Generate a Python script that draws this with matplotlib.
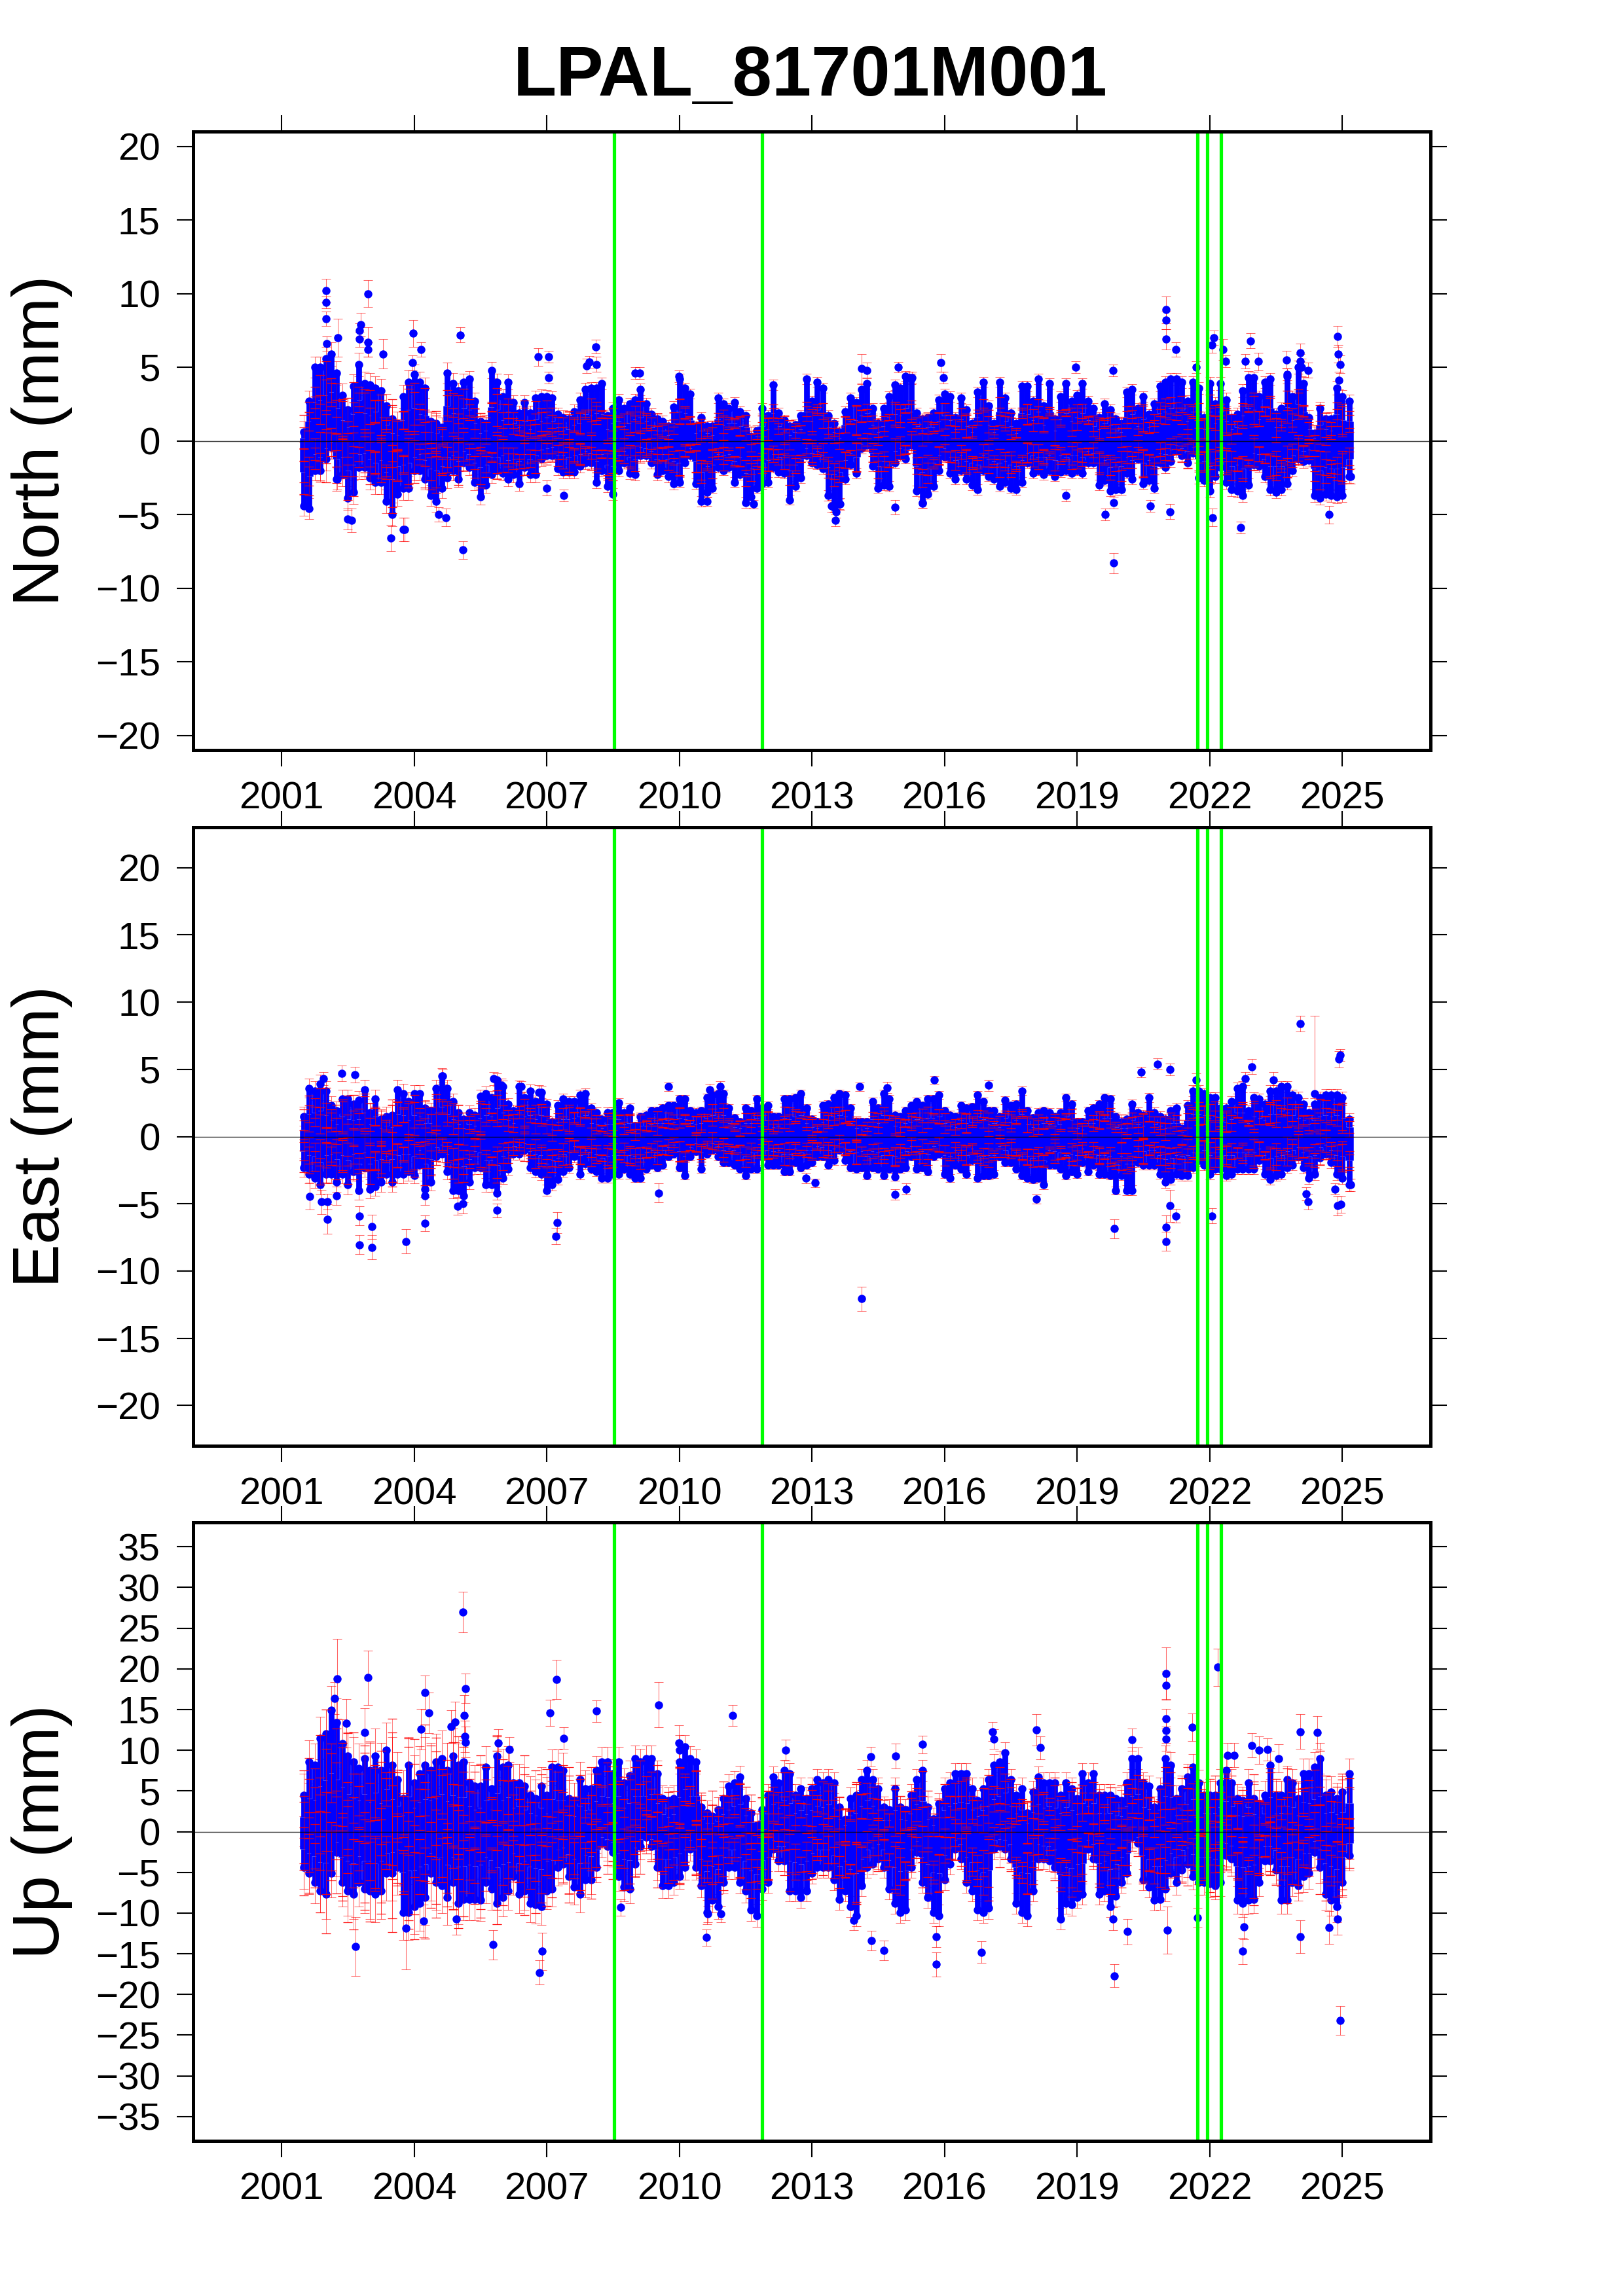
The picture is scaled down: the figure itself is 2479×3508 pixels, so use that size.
import matplotlib
matplotlib.use('Agg')
import matplotlib.pyplot as plt

plt.rcParams['font.family'] = ['Liberation Sans', 'DejaVu Sans']

# epochs of the envelope read-offs (decimal years)
epochs = [2001.5, 2001.625, 2001.75, 2001.875,
    2002.0, 2002.125, 2002.25, 2002.375, 2002.5, 2002.625, 2002.75, 2002.875,
    2003.0, 2003.125, 2003.25, 2003.375, 2003.5, 2003.625, 2003.75, 2003.875,
    2004.0, 2004.125, 2004.25, 2004.375, 2004.5, 2004.625, 2004.75, 2004.875,
    2005.0, 2005.125, 2005.25, 2005.375, 2005.5, 2005.625, 2005.75, 2005.875,
    2006.0, 2006.125, 2006.25, 2006.375, 2006.5, 2006.625, 2006.75, 2006.875,
    2007.0, 2007.125, 2007.25, 2007.375, 2007.5, 2007.625, 2007.75, 2007.875,
    2008.0, 2008.125, 2008.25, 2008.375, 2008.5, 2008.625, 2008.75, 2008.875,
    2009.0, 2009.125, 2009.25, 2009.375, 2009.5, 2009.625, 2009.75, 2009.875,
    2010.0, 2010.125, 2010.25, 2010.375, 2010.5, 2010.625, 2010.75, 2010.875,
    2011.0, 2011.125, 2011.25, 2011.375, 2011.5, 2011.625, 2011.75, 2011.875,
    2012.0, 2012.125, 2012.25, 2012.375, 2012.5, 2012.625, 2012.75, 2012.875,
    2013.0, 2013.125, 2013.25, 2013.375, 2013.5, 2013.625, 2013.75, 2013.875,
    2014.0, 2014.125, 2014.25, 2014.375, 2014.5, 2014.625, 2014.75, 2014.875,
    2015.0, 2015.125, 2015.25, 2015.375, 2015.5, 2015.625, 2015.75, 2015.875,
    2016.0, 2016.125, 2016.25, 2016.375, 2016.5, 2016.625, 2016.75, 2016.875,
    2017.0, 2017.125, 2017.25, 2017.375, 2017.5, 2017.625, 2017.75, 2017.875,
    2018.0, 2018.125, 2018.25, 2018.375, 2018.5, 2018.625, 2018.75, 2018.875,
    2019.0, 2019.125, 2019.25, 2019.375, 2019.5, 2019.625, 2019.75, 2019.875,
    2020.0, 2020.125, 2020.25, 2020.375, 2020.5, 2020.625, 2020.75, 2020.875,
    2021.0, 2021.125, 2021.25, 2021.375, 2021.5, 2021.625, 2021.75, 2021.875,
    2022.0, 2022.125, 2022.25, 2022.375, 2022.5, 2022.625, 2022.75, 2022.875,
    2023.0, 2023.125, 2023.25, 2023.375, 2023.5, 2023.625, 2023.75, 2023.875,
    2024.0, 2024.125, 2024.25, 2024.375, 2024.5, 2024.625, 2024.75, 2024.875,
    2025.0, 2025.16]

years = [2001, 2002, 2003, 2004, 2005, 2006, 2007, 2008, 2009, 2010, 2011, 2012, 2013,
         2014, 2015, 2016, 2017, 2018, 2019, 2020, 2021, 2022, 2023, 2024, 2025]
offsets = [2008.53, 2011.88, 2021.72, 2021.95, 2022.26]

# ---- North
north_hi = [0.6,2.7,5.0,5.0,
    5.6,5.9,4.6,3.1,2.1,3.7,5.2,3.9,
    3.8,3.6,3.4,2.4,1.5,1.2,3.0,4.0,
    4.5,4.0,3.6,1.3,1.2,0.9,4.6,3.9,
    3.4,4.0,4.2,2.7,1.3,1.2,4.8,4.0,
    3.0,4.0,2.6,1.9,2.6,1.9,2.9,3.0,
    3.0,2.9,1.8,1.6,1.5,2.0,2.8,3.5,
    3.6,3.6,3.9,1.7,2.2,2.8,2.2,2.5,
    2.8,3.5,2.5,1.8,1.5,1.3,1.0,2.3,
    4.2,3.6,3.2,1.0,1.6,1.0,1.0,2.9,
    2.5,2.2,2.6,2.0,1.7,0.3,0.7,2.2,
    1.7,3.8,1.9,1.4,1.0,1.1,1.7,4.2,
    2.7,4.0,3.6,1.7,1.2,0.6,2.0,2.9,
    2.6,3.5,3.9,2.2,1.2,2.2,3.0,3.8,
    3.6,4.4,4.2,1.9,1.5,1.6,1.9,2.8,
    3.2,3.0,1.6,2.9,2.1,1.2,3.3,4.0,
    2.4,1.2,4.0,2.9,1.9,1.2,3.7,3.7,
    2.7,4.2,2.4,3.9,1.5,3.0,3.9,2.7,
    3.1,3.9,2.7,2.2,1.6,2.5,2.1,1.5,
    1.2,3.3,3.5,2.2,3.0,1.8,2.5,3.7,
    4.0,4.2,4.2,4.0,2.7,4.0,3.6,1.6,
    3.9,2.5,3.9,2.8,1.6,1.8,3.4,4.3,
    4.3,3.0,4.0,4.2,1.8,2.2,4.5,3.0,
    5.0,3.9,1.6,0.5,2.2,1.5,1.5,3.6,
    3.0,2.7]
north_lo = [-4.4,-4.6,-2.0,-2.0,
    -1.2,-0.4,-2.6,-2.3,-3.9,-3.5,-1.8,-1.8,
    -2.5,-2.8,-2.8,-4.1,-5.0,-3.6,-3.2,-3.2,
    -2.0,-2.0,-2.6,-3.7,-4.1,-3.2,-2.5,-2.0,
    -2.6,-1.5,-1.8,-2.8,-3.8,-3.0,-2.3,-2.0,
    -2.2,-2.6,-2.3,-2.9,-1.8,-2.3,-2.3,-1.2,
    -1.0,-1.0,-1.9,-2.1,-2.1,-2.1,-1.7,-1.5,
    -1.5,-2.8,-2.0,-3.1,-3.6,-2.0,-1.5,-2.2,
    -2.3,-1.0,-1.0,-1.5,-2.3,-2.0,-2.4,-2.9,
    -2.8,-1.5,-1.0,-2.9,-4.1,-3.5,-3.2,-1.8,
    -2.0,-1.8,-2.8,-2.3,-4.2,-3.8,-3.2,-2.9,
    -2.8,-1.8,-2.1,-2.2,-4.0,-3.1,-2.5,-1.0,
    -1.5,-1.6,-1.9,-3.7,-4.5,-4.3,-2.6,-1.6,
    -2.2,-0.5,-0.3,-1.7,-3.2,-3.0,-3.1,-1.5,
    -1.0,-1.2,-0.3,-3.4,-4.2,-3.6,-3.1,-2.0,
    -1.1,-2.2,-2.6,-2.0,-2.6,-3.0,-3.3,-2.0,
    -2.4,-2.6,-3.1,-2.8,-3.2,-3.3,-2.8,-1.5,
    -2.2,-2.0,-2.3,-2.0,-2.4,-2.1,-2.0,-2.2,
    -2.0,-2.2,-1.5,-1.5,-3.0,-2.7,-3.4,-3.3,
    -3.3,-2.2,-2.6,-1.2,-2.9,-2.7,-3.2,-1.5,
    -1.8,-1.4,-0.7,-1.0,-1.5,-0.8,-2.5,-2.7,
    -3.4,-2.4,-1.8,-2.8,-3.3,-3.4,-3.7,-3.0,
    -1.6,-1.7,-2.4,-3.3,-3.5,-3.3,-2.9,-2.0,
    -1.2,-1.4,-1.3,-3.7,-3.9,-3.6,-3.7,-3.8,
    -3.7,-2.4]
north_a = [0.2,1.3,2.6,2.8,
    3.1,3.3,2.2,1.4,0.9,1.8,2.8,1.9,
    1.7,2.0,1.6,1.1,0.5,0.4,1.4,2.1,
    2.2,1.8,1.7,0.6,0.5,0.3,2.4,1.9,
    1.5,2.2,2.1,1.2,0.5,0.7,2.3,2.1,
    1.4,2.0,1.2,0.9,1.3,0.8,1.5,1.3,
    1.6,1.3,0.9,0.7,0.8,1.1,1.2,1.8,
    1.7,1.9,1.8,0.8,1.2,1.3,1.0,1.2,
    1.5,1.6,1.3,0.9,0.7,0.7,0.4,1.2,
    2.0,1.9,1.4,0.5,0.7,0.5,0.4,1.5,
    1.1,1.2,1.2,1.0,0.9,0.1,0.3,1.0,
    0.8,1.9,1.0,0.7,0.4,0.6,0.8,2.0,
    1.3,2.1,1.7,0.9,0.6,0.2,1.1,1.3,
    1.4,1.7,1.9,1.1,0.6,1.0,1.6,1.8,
    1.7,2.2,2.0,1.0,0.7,0.9,0.9,1.3,
    1.7,1.4,0.8,1.5,1.0,0.6,1.6,2.1,
    1.1,0.6,2.0,1.3,1.0,0.5,1.9,1.8,
    1.4,2.0,1.1,2.0,0.7,1.5,1.9,1.3,
    1.6,1.9,1.4,1.0,0.8,1.2,1.1,0.7,
    0.6,1.6,1.8,1.0,1.5,0.9,1.2,1.9,
    2.0,2.2,2.0,2.1,1.3,2.0,1.7,0.8,
    2.0,1.2,2.0,1.3,0.8,0.9,1.7,2.2,
    2.1,1.5,2.0,2.2,0.9,1.1,2.3,1.4,
    2.5,2.0,0.8,0.2,1.1,0.8,0.7,1.8,
    1.4,1.3]
north_b = [-2.1,-2.4,-0.9,-1.1,
    -0.5,-0.1,-1.2,-1.1,-2.0,-1.6,-0.9,-0.8,
    -1.2,-1.5,-1.3,-2.1,-2.6,-1.7,-1.6,-1.5,
    -1.1,-0.9,-1.3,-1.9,-2.0,-1.7,-1.1,-1.0,
    -1.4,-0.7,-0.9,-1.5,-1.8,-1.6,-1.1,-1.1,
    -1.0,-1.3,-1.2,-1.4,-0.9,-1.2,-1.0,-0.6,
    -0.5,-0.4,-1.0,-1.0,-1.1,-1.0,-0.9,-0.7,
    -0.8,-1.4,-0.9,-1.6,-1.7,-1.0,-0.7,-1.1,
    -1.2,-0.4,-0.5,-0.7,-1.2,-0.9,-1.2,-1.4,
    -1.5,-0.7,-0.5,-1.4,-2.1,-1.7,-1.6,-0.9,
    -1.0,-0.9,-1.4,-1.1,-2.2,-1.9,-1.5,-1.5,
    -1.3,-0.9,-1.1,-1.0,-2.0,-1.6,-1.2,-0.5,
    -0.8,-0.7,-1.0,-1.8,-2.3,-2.1,-1.3,-0.8,
    -1.1,-0.2,-0.1,-0.8,-1.7,-1.4,-1.6,-0.7,
    -0.5,-0.6,-0.1,-1.7,-2.1,-1.9,-1.5,-1.0,
    -0.5,-1.1,-1.3,-1.0,-1.4,-1.5,-1.6,-1.0,
    -1.2,-1.4,-1.5,-1.4,-1.6,-1.7,-1.3,-0.8,
    -1.0,-1.1,-1.1,-1.0,-1.3,-1.0,-1.1,-1.0,
    -1.0,-1.1,-0.7,-0.8,-1.5,-1.3,-1.8,-1.6,
    -1.7,-1.1,-1.3,-0.6,-1.5,-1.3,-1.7,-0.8,
    -0.9,-0.6,-0.3,-0.5,-0.7,-0.4,-1.2,-1.4,
    -1.7,-1.2,-0.9,-1.4,-1.7,-1.6,-1.9,-1.5,
    -0.8,-0.9,-1.2,-1.7,-1.7,-1.7,-1.4,-1.0,
    -0.6,-0.7,-0.6,-1.9,-2.0,-1.8,-1.9,-1.9,
    -1.8,-1.2]
north_sig = [0.7,0.8,0.8,0.7,0.55,0.5,0.45,0.4,0.4,0.35,0.35,0.35,0.35,
             0.35,0.35,0.35,0.35,0.35,0.35,0.35,0.4,0.45,0.4,0.45,0.45]
north_out_t = [2002.0,2002.0,2002.01,2002.02,2002.96,2002.27,2002.79,2002.77,2002.77,2002.95,2002.96,2003.29,
    2003.98,2004.15,2005.05,2003.97,2008.11,2006.81,2007.04,2007.04,2007.9,2007.96,2008.13,2009.0,2009.11,2009.99,
    2002.26,2002.49,2002.59,2003.47,2003.75,2003.79,2004.56,2004.72,2005.11,2007.39,2007.0,2010.63,2011.68,
    2014.13,2014.24,2014.95,2015.92,2015.98,2015.2,2015.27,2018.97,2019.82,2021.02,2021.02,2021.02,2021.23,2021.7,
    2022.05,2022.1,2022.3,2022.36,2022.8,2022.93,2023.11,2023.74,2023.76,2024.05,2024.05,2024.08,2024.23,2024.89,2024.91,2024.96,2024.92,
    2013.54,2013.55,2013.63,2013.45,2014.88,2015.51,2018.75,2019.64,2019.83,2019.83,2020.66,2021.11,2022.07,2022.71,2024.7,2025.19]
north_out_v = [10.2,9.4,8.3,6.6,10.0,7.0,7.9,7.5,6.9,6.7,6.2,5.9,
    7.3,6.2,7.2,5.3,6.4,5.7,5.7,4.3,5.1,5.35,5.2,4.6,4.6,4.4,
    -2.6,-5.3,-5.4,-6.6,-6.0,-6.0,-5.0,-5.2,-7.4,-3.7,-3.2,-4.1,-4.3,
    4.9,4.8,5.0,5.3,4.3,4.3,4.3,5.0,4.8,8.9,8.2,6.9,6.2,5.0,
    6.5,7.0,6.2,5.4,5.4,6.8,5.4,5.5,4.4,6.0,5.4,5.0,4.8,7.1,5.9,5.2,4.1,
    -5.4,-4.8,-4.3,-4.4,-4.5,-4.25,-3.7,-5.0,-4.2,-8.3,-4.4,-4.8,-5.2,-5.9,-5.0,-2.4]
north_out_s = [0.8,0.4,0.5,0.5,0.9,1.3,0.8,0.5,0.5,1.0,0.5,1.0,
    0.9,0.5,0.5,0.5,0.45,0.6,0.4,0.4,0.5,0.4,0.5,0.4,0.4,0.4,
    0.7,0.7,0.8,0.9,0.8,0.8,0.5,0.6,0.6,0.4,0.5,0.3,0.3,
    1.0,0.5,0.35,0.6,0.4,0.4,0.4,0.4,0.4,0.9,0.6,0.7,0.5,0.4,
    0.5,0.5,0.7,0.4,0.5,0.5,0.6,0.6,0.5,0.6,0.5,0.6,0.5,0.7,0.6,0.6,0.6,
    0.4,0.4,0.4,0.4,0.5,0.3,0.4,0.4,0.4,0.7,0.4,0.5,0.6,0.4,0.6,0.5]

# ---- East
east_hi = [1.5,3.6,3.4,3.9,
    3.4,2.3,1.9,2.8,2.8,2.4,2.7,3.5,
    1.8,2.8,1.3,1.5,1.6,3.5,3.2,2.6,
    3.2,3.2,2.1,1.9,3.6,4.5,3.6,2.6,
    1.8,1.3,1.8,1.6,3.0,3.2,2.9,4.2,
    3.7,2.4,1.9,3.7,2.9,3.4,2.6,3.3,
    2.4,1.1,2.3,2.8,2.6,2.6,3.1,3.2,
    2.1,1.8,1.3,1.8,1.8,2.5,1.8,2.1,
    0.8,1.5,1.6,1.9,1.9,2.1,2.3,2.3,
    2.8,2.8,1.9,1.8,1.9,2.9,3.1,3.2,
    3.2,2.1,1.4,1.1,2.1,1.9,2.8,2.1,
    2.3,1.5,1.5,2.8,2.8,2.9,3.2,2.1,
    1.3,1.1,2.3,2.4,2.9,3.2,3.1,2.1,
    1.1,1.1,1.1,2.6,2.1,3.2,2.8,1.6,
    1.5,1.9,2.3,2.6,2.3,2.8,2.8,3.1,
    1.9,1.6,1.5,2.3,2.1,2.2,3.1,2.6,
    1.9,1.9,1.5,2.7,2.3,2.4,3.4,1.9,
    1.4,1.8,1.9,1.8,1.5,1.8,2.9,2.4,
    1.1,1.1,1.9,2.1,2.4,2.9,2.8,1.5,
    1.1,1.3,2.4,1.8,1.6,2.9,1.8,1.5,
    1.3,1.9,2.1,0.6,2.3,3.4,3.4,3.2,
    2.9,2.9,2.1,2.1,2.6,3.6,3.7,1.9,
    2.9,2.8,2.4,3.4,3.4,3.7,3.7,3.1,
    2.9,2.4,1.8,2.4,2.9,3.1,3.1,3.1,
    2.9,1.3]
east_lo = [-2.3,-2.8,-3.1,-3.6,
    -2.8,-2.8,-3.4,-2.8,-3.6,-2.6,-4.0,-2.3,
    -3.9,-3.7,-3.4,-2.8,-3.4,-2.8,-2.8,-2.6,
    -2.9,-2.1,-3.9,-3.4,-1.5,-1.3,-2.6,-4.0,
    -4.0,-4.4,-3.4,-2.3,-2.3,-3.6,-3.6,-4.2,
    -3.1,-2.4,-1.3,-1.3,-1.0,-2.3,-2.6,-2.8,
    -4.0,-3.6,-3.2,-2.6,-2.3,-1.5,-2.8,-2.0,
    -2.4,-2.6,-3.1,-3.1,-2.8,-2.8,-2.4,-2.8,
    -3.1,-3.1,-2.4,-2.1,-2.3,-2.1,-1.5,-1.3,
    -2.3,-2.9,-1.5,-1.1,-2.4,-1.3,-1.0,-1.5,
    -1.9,-1.9,-2.1,-2.4,-2.9,-2.4,-2.4,-1.5,
    -2.1,-2.1,-2.1,-2.6,-2.6,-1.9,-2.3,-2.1,
    -1.9,-1.5,-1.5,-2.1,-1.8,-1.0,-1.8,-2.3,
    -2.4,-2.3,-2.9,-2.3,-2.4,-2.9,-2.4,-3.0,
    -2.4,-2.3,-1.5,-2.4,-2.3,-2.6,-1.5,-1.3,
    -2.8,-3.1,-2.1,-2.4,-2.8,-1.8,-3.1,-2.9,
    -2.9,-2.8,-1.5,-1.9,-1.9,-2.4,-2.9,-3.1,
    -3.2,-3.1,-3.6,-2.1,-2.1,-2.4,-2.9,-2.6,
    -2.8,-1.9,-2.6,-2.1,-2.8,-2.8,-2.9,-4.0,
    -2.9,-4.0,-4.0,-1.9,-2.1,-2.1,-2.1,-2.8,
    -3.4,-3.2,-2.8,-2.9,-2.9,-2.3,-1.8,-2.1,
    -2.8,-2.4,-2.4,-2.9,-2.8,-2.4,-2.4,-2.4,
    -2.4,-1.8,-2.8,-3.2,-2.9,-2.8,-2.3,-2.1,
    -1.5,-2.3,-3.1,-2.8,-1.6,-1.3,-1.9,-2.8,
    -3.1,-3.6]
east_a = [0.5,1.7,1.8,1.9,
    1.6,1.2,0.9,1.5,1.3,1.2,1.3,1.8,
    0.9,1.5,0.6,0.8,0.7,1.7,1.6,1.2,
    1.6,1.5,1.0,1.0,1.8,2.2,1.7,1.3,
    0.9,0.6,0.9,0.8,1.4,1.6,1.5,2.1,
    1.8,1.2,1.0,1.8,1.5,1.6,1.3,1.6,
    1.2,0.5,1.1,1.3,1.3,1.4,1.5,1.6,
    1.0,0.9,0.6,0.9,0.9,1.3,0.9,1.0,
    0.4,0.8,0.8,0.9,1.0,1.0,1.2,1.1,
    1.4,1.3,1.0,0.9,1.0,1.4,1.6,1.5,
    1.6,1.0,0.7,0.6,1.0,1.0,1.4,1.0,
    1.2,0.7,0.8,1.4,1.3,1.5,1.6,1.0,
    0.7,0.6,1.1,1.2,1.5,1.6,1.5,1.0,
    0.6,0.5,0.6,1.3,1.0,1.6,1.4,0.8,
    0.7,1.0,1.1,1.3,1.2,1.4,1.4,1.5,
    1.0,0.8,0.7,1.2,1.0,1.1,1.5,1.3,
    0.9,1.0,0.7,1.4,1.1,1.2,1.7,0.9,
    0.7,0.9,1.0,0.9,0.8,0.9,1.5,1.2,
    0.6,0.5,1.0,1.0,1.2,1.4,1.4,0.7,
    0.6,0.6,1.2,0.9,0.8,1.5,0.9,0.8,
    0.6,1.0,1.0,0.3,1.2,1.7,1.7,1.6,
    1.4,1.5,1.0,1.1,1.3,1.8,1.8,1.0,
    1.5,1.4,1.2,1.7,1.7,1.9,1.8,1.6,
    1.4,1.2,0.9,1.2,1.5,1.6,1.5,1.6,
    1.4,0.7]
east_b = [-1.1,-1.4,-1.5,-1.9,
    -1.4,-1.3,-1.7,-1.4,-1.8,-1.3,-2.0,-1.2,
    -2.0,-1.8,-1.7,-1.5,-1.7,-1.4,-1.3,-1.3,
    -1.5,-1.0,-2.0,-1.7,-0.8,-0.6,-1.3,-2.0,
    -2.0,-2.2,-1.7,-1.1,-1.2,-1.8,-1.8,-2.1,
    -1.5,-1.2,-0.7,-0.6,-0.5,-1.1,-1.3,-1.4,
    -2.0,-1.8,-1.6,-1.3,-1.2,-0.7,-1.4,-1.0,
    -1.2,-1.3,-1.6,-1.5,-1.4,-1.4,-1.2,-1.4,
    -1.5,-1.6,-1.2,-1.0,-1.2,-1.0,-0.8,-0.6,
    -1.1,-1.5,-0.8,-0.5,-1.2,-0.6,-0.5,-0.7,
    -1.0,-0.9,-1.0,-1.2,-1.5,-1.2,-1.2,-0.8,
    -1.0,-1.1,-1.0,-1.3,-1.3,-0.9,-1.2,-1.0,
    -1.0,-0.7,-0.8,-1.0,-0.9,-0.5,-0.9,-1.1,
    -1.2,-1.1,-1.5,-1.1,-1.2,-1.4,-1.2,-1.5,
    -1.2,-1.1,-0.7,-1.2,-1.1,-1.3,-0.7,-0.6,
    -1.4,-1.5,-1.0,-1.2,-1.4,-0.9,-1.5,-1.5,
    -1.4,-1.4,-0.7,-1.0,-0.9,-1.2,-1.5,-1.5,
    -1.6,-1.5,-1.8,-1.0,-1.1,-1.2,-1.4,-1.3,
    -1.4,-0.9,-1.3,-1.0,-1.4,-1.4,-1.5,-2.0,
    -1.5,-2.0,-2.0,-0.9,-1.1,-1.0,-1.0,-1.4,
    -1.7,-1.6,-1.4,-1.5,-1.4,-1.2,-0.9,-1.0,
    -1.4,-1.2,-1.2,-1.4,-1.4,-1.2,-1.2,-1.2,
    -1.2,-0.9,-1.4,-1.6,-1.5,-1.4,-1.1,-1.0,
    -0.8,-1.2,-1.5,-1.4,-0.8,-0.6,-1.0,-1.4,
    -1.5,-1.8]
east_sig = [0.7,0.7,0.7,0.6,0.5,0.45,0.4,0.35,0.3,0.3,0.3,0.3,0.3,
            0.3,0.3,0.3,0.3,0.3,0.3,0.35,0.4,0.4,0.4,0.45,0.45]
east_out_t = [2002.37,2002.66,2001.95,2004.64,2005.8,2005.98,2006.42,2006.82,2009.76,2010.69,2010.92,
    2001.64,2001.91,2002.03,2002.03,2002.25,2002.77,2002.77,2003.05,2003.05,2003.82,2004.25,2004.25,
    2004.99,2005.11,2005.87,2007.23,2007.21,2009.54,2013.08,2012.87,
    2014.13,2015.77,2014.71,2017.0,2014.08,2024.05,2024.38,2024.96,2024.93,2020.82,2021.11,2020.45,2022.95,2022.8,2021.7,2023.44,
    2019.84,2021.02,2021.02,2021.1,2021.23,2022.05,2024.9,2024.97,2024.23,2024.18,2024.83,2025.19,2014.88,2015.13,2018.08]
east_out_v = [4.7,4.6,4.3,4.5,4.3,3.8,3.7,3.3,3.7,3.5,3.7,
    -4.45,-4.85,-4.85,-6.15,-4.4,-5.9,-8.05,-6.7,-8.25,-7.8,-6.45,-4.4,
    -5.2,-5.0,-5.5,-6.4,-7.4,-4.2,-3.45,-3.1,
    -12.05,4.2,3.65,3.8,3.7,8.4,3.2,6.05,5.75,5.4,5.0,4.8,5.2,4.3,4.2,4.2,
    -6.85,-6.75,-7.8,-5.15,-5.9,-5.9,-5.15,-5.05,-4.85,-4.25,-3.9,-3.6,-4.3,-3.9,-4.65]
east_out_s = [0.6,0.6,0.5,0.5,0.5,0.5,0.4,0.5,0.3,0.4,0.4,
    1.0,0.9,0.6,1.1,0.7,0.7,0.7,0.9,0.9,0.9,0.6,0.7,
    0.6,0.7,0.5,0.8,0.6,0.7,0.3,0.4,
    0.9,0.3,0.4,0.4,0.3,0.6,5.8,0.45,0.6,0.4,0.45,0.4,0.55,0.5,0.5,0.6,
    0.7,0.9,0.7,1.2,0.5,0.55,0.7,0.6,0.6,0.5,0.4,0.45,0.4,0.4,0.35]

# ---- Up
up_hi = [4.5,8.6,8.2,11.5,
    12.0,14.9,13.4,10.8,9.3,8.6,7.8,9.0,
    7.5,9.3,7.5,10.0,8.2,6.4,4.1,8.2,
    6.0,7.1,8.2,7.5,8.6,9.0,7.5,9.3,
    8.2,8.6,6.0,5.6,5.6,7.9,5.3,9.3,
    7.9,8.2,6.0,6.0,5.6,4.5,4.1,5.6,
    4.5,7.9,7.9,7.5,4.1,3.8,6.4,5.3,
    5.3,7.5,8.6,8.6,7.1,8.6,6.0,6.9,
    9.0,8.6,9.0,9.0,7.1,4.1,3.8,4.1,
    8.6,10.4,9.0,8.6,3.0,2.3,1.9,2.7,
    4.1,5.6,6.0,6.7,4.1,2.3,0.8,2.7,
    4.5,6.7,6.0,7.5,7.1,4.5,5.3,4.1,
    5.3,6.4,6.0,6.4,6.0,3.0,1.5,4.1,
    4.5,6.4,7.5,6.4,5.3,3.0,2.7,5.3,
    3.0,2.7,4.5,6.4,7.5,3.0,1.6,3.4,
    5.3,6.0,7.1,7.1,7.1,5.3,3.8,5.3,
    6.4,8.2,8.6,9.7,6.4,4.5,5.3,2.3,
    4.9,6.7,6.0,6.0,6.0,4.5,6.0,5.3,
    4.1,7.1,6.0,7.1,4.5,4.5,4.5,4.1,
    3.8,6.0,9.0,9.0,6.0,5.6,3.0,5.3,
    9.0,8.2,4.1,5.3,6.7,7.9,6.0,4.5,
    4.5,4.5,6.0,7.5,6.0,4.1,3.8,6.0,
    4.1,3.4,4.5,8.2,4.5,4.5,6.4,6.0,
    4.1,7.1,7.1,7.9,9.0,4.5,4.9,4.1,
    4.9,7.1]
up_lo = [-4.4,-5.1,-6.2,-7.3,
    -7.7,-5.1,-2.5,-6.2,-7.3,-7.7,-6.2,-7.0,
    -7.3,-7.7,-7.3,-5.1,-5.1,-4.4,-9.9,-9.9,
    -9.2,-8.8,-8.1,-5.1,-6.2,-6.6,-8.1,-6.2,
    -8.8,-8.3,-8.3,-8.3,-8.4,-6.2,-7.0,-8.8,
    -8.1,-7.3,-5.5,-7.7,-7.3,-8.8,-9.0,-9.2,
    -7.3,-7.0,-4.4,-4.0,-5.5,-6.8,-7.7,-5.9,
    -5.9,-4.4,-1.4,-1.8,-2.5,-5.5,-6.8,-7.0,
    -4.0,-1.8,-0.7,-1.8,-4.4,-6.6,-6.6,-6.2,
    -5.5,-4.4,-2.1,-4.4,-6.6,-9.9,-8.4,-9.2,
    -6.2,-4.4,-4.4,-6.2,-7.3,-9.6,-10.3,-7.0,
    -6.2,-2.1,-3.6,-3.6,-7.3,-7.3,-8.1,-7.3,
    -5.1,-4.4,-4.4,-4.4,-5.9,-8.3,-7.3,-9.2,
    -10.3,-6.6,-4.4,-4.0,-3.3,-4.4,-7.0,-8.8,
    -9.9,-9.6,-4.4,-2.5,-6.2,-8.1,-9.9,-10.3,
    -5.9,-4.0,-2.1,-3.3,-6.2,-7.3,-9.6,-9.9,
    -9.4,-2.1,-1.8,-2.1,-3.3,-8.8,-9.9,-10.3,
    -7.3,-3.3,-3.3,-3.6,-4.4,-10.7,-8.8,-9.0,
    -8.1,-7.7,-2.1,-3.3,-7.7,-7.3,-9.2,-7.9,
    -6.2,-5.1,-0.7,-1.4,-5.9,-6.8,-8.4,-8.3,
    -7.0,-5.1,-6.2,-4.7,-4.0,-5.5,-6.2,-6.2,
    -6.4,-6.6,-6.2,-2.9,-3.3,-8.4,-8.8,-8.4,
    -8.3,-6.2,-3.6,-3.6,-4.7,-8.4,-8.4,-6.2,
    -6.6,-5.5,-5.1,-2.5,-4.4,-7.7,-8.4,-9.2,
    -6.2,-2.9]
up_a = [1.8,4.1,3.9,5.6,
    6.3,7.2,6.4,5.5,4.6,4.1,3.8,4.6,
    3.6,4.8,3.5,5.2,4.0,3.2,2.0,4.3,
    2.9,3.6,4.0,3.8,4.1,4.6,3.7,4.5,
    4.2,4.2,3.1,2.7,2.9,3.8,2.7,4.7,
    3.8,4.2,2.9,3.1,2.7,2.3,2.0,2.9,
    2.2,4.0,3.8,3.8,2.0,1.9,3.2,2.6,
    2.7,3.7,4.4,4.2,3.5,4.4,2.9,3.5,
    4.4,4.4,4.4,4.6,3.5,2.1,1.8,2.1,
    4.2,5.2,4.4,4.4,1.5,1.1,1.0,1.3,
    2.1,2.7,3.1,3.3,2.0,1.2,0.4,1.4,
    2.2,3.4,2.9,3.8,3.5,2.3,2.6,2.1,
    2.6,3.2,3.0,3.3,2.9,1.5,0.8,2.0,
    2.3,3.1,3.8,3.2,2.7,1.4,1.4,2.6,
    1.5,1.4,2.2,3.3,3.7,1.5,0.8,1.7,
    2.6,3.1,3.5,3.6,3.5,2.7,1.9,2.6,
    3.2,4.0,4.4,4.8,3.2,2.2,2.7,1.1,
    2.4,3.4,2.9,3.1,2.9,2.3,3.0,2.6,
    2.1,3.5,3.1,3.5,2.3,2.2,2.3,2.0,
    1.9,3.1,4.4,4.6,3.0,2.8,1.5,2.7,
    4.4,4.2,2.0,2.7,3.3,4.0,2.9,2.3,
    2.2,2.3,3.0,3.7,3.1,2.0,1.9,3.0,
    2.1,1.7,2.2,4.2,2.2,2.3,3.2,3.0,
    2.0,3.6,3.5,4.0,4.4,2.3,2.4,2.1,
    2.4,3.5]
up_b = [-2.1,-2.6,-3.0,-3.7,
    -3.8,-2.4,-1.3,-3.1,-3.6,-3.9,-3.0,-3.6,
    -3.6,-3.9,-3.6,-2.6,-2.5,-2.2,-5.0,-4.8,
    -4.7,-4.3,-4.0,-2.6,-3.1,-3.2,-4.1,-3.1,
    -4.3,-4.2,-4.1,-4.2,-4.1,-3.1,-3.5,-4.4,
    -4.0,-3.7,-2.7,-3.9,-3.6,-4.3,-4.5,-4.6,
    -3.6,-3.5,-2.2,-2.0,-2.8,-3.3,-3.9,-2.9,
    -3.0,-2.2,-0.7,-0.9,-1.3,-2.7,-3.4,-3.5,
    -2.0,-0.9,-0.3,-0.9,-2.2,-3.3,-3.3,-3.1,
    -2.7,-2.2,-1.0,-2.2,-3.3,-4.9,-4.2,-4.6,
    -3.1,-2.2,-2.2,-3.1,-3.6,-4.8,-5.2,-3.5,
    -3.1,-1.0,-1.8,-1.8,-3.6,-3.7,-4.0,-3.6,
    -2.6,-2.2,-2.2,-2.2,-2.9,-4.2,-3.6,-4.6,
    -5.1,-3.3,-2.2,-2.0,-1.6,-2.2,-3.5,-4.4,
    -4.9,-4.8,-2.2,-1.2,-3.1,-4.0,-5.0,-5.1,
    -2.9,-2.0,-1.0,-1.6,-3.1,-3.7,-4.8,-5.0,
    -4.7,-1.0,-0.9,-1.0,-1.6,-4.4,-5.0,-5.1,
    -3.6,-1.6,-1.7,-1.8,-2.2,-5.3,-4.4,-4.5,
    -4.0,-3.9,-1.0,-1.6,-3.9,-3.6,-4.6,-4.0,
    -3.1,-2.6,-0.3,-0.7,-2.9,-3.4,-4.2,-4.2,
    -3.5,-2.6,-3.1,-2.3,-2.0,-2.8,-3.1,-3.1,
    -3.2,-3.3,-3.1,-1.4,-1.7,-4.2,-4.4,-4.2,
    -4.1,-3.1,-1.8,-1.8,-2.3,-4.2,-4.2,-3.1,
    -3.3,-2.7,-2.6,-1.2,-2.2,-3.9,-4.2,-4.6,
    -3.1,-1.4]
up_sig = [2.6,3.0,3.4,3.4,2.6,2.3,2.2,1.8,1.6,1.5,1.4,1.3,1.3,
          1.3,1.3,1.3,1.3,1.3,1.3,1.3,1.6,1.7,1.7,1.9,1.9]
up_out_t = [2005.11,2002.26,2002.96,2007.22,2004.25,2005.17,2004.33,2005.13,2007.08,2008.13,2009.54,2011.2,
    2002.2,2002.47,2002.88,2004.15,2004.92,2004.83,2007.39,2005.9,2006.16,2005.15,2005.16,2009.99,2010.0,2012.4,
    2002.68,2003.82,2006.84,2006.89,2005.78,2004.96,2004.21,2010.62,2008.67,2010.64,2010.94,
    2021.02,2021.02,2021.02,2021.02,2021.02,2022.19,2021.61,2017.09,2017.12,2018.08,2018.17,2015.51,2014.9,2014.34,2020.24,
    2024.05,2024.43,2022.95,2023.12,2023.31,2023.57,2022.4,2022.55,
    2014.35,2014.63,2015.81,2015.82,2016.83,2019.84,2020.14,2021.04,2022.75,2022.78,2024.05,2024.7,2024.9,2024.96,2013.95,2019.81,2021.72]
up_out_v = [27.0,18.8,18.9,18.7,17.1,17.6,14.6,14.3,14.6,14.8,15.6,14.3,
    16.4,13.3,12.2,12.6,13.5,12.9,11.5,10.9,10.1,11.7,11.0,10.9,10.0,10.0,
    -14.1,-11.9,-17.3,-14.7,-13.9,-10.7,-11.0,-13.0,-9.3,-10.1,-10.1,
    19.4,18.0,13.9,12.4,11.4,20.2,12.8,12.3,11.4,12.5,10.3,10.7,9.3,9.2,11.3,
    12.3,12.2,10.6,10.0,10.1,9.0,9.4,9.4,
    -13.4,-14.6,-16.3,-12.9,-14.8,-17.7,-12.3,-12.1,-14.7,-11.7,-12.9,-11.8,-10.7,-23.2,-10.9,-10.7,-10.6]
up_out_s = [2.5,4.9,3.3,2.4,2.1,1.8,2.5,2.5,1.6,1.3,2.8,1.3,
    2.0,3.0,3.0,2.5,2.5,2.0,1.3,1.7,1.5,1.9,1.9,2.2,1.9,1.3,
    3.6,5.0,1.5,2.3,1.8,2.0,2.0,1.0,1.0,1.0,1.0,
    3.2,1.7,1.2,1.5,1.5,2.3,1.7,1.2,1.2,1.9,1.4,1.1,1.5,1.2,1.4,
    2.1,2.0,1.5,1.7,1.4,1.7,1.5,1.5,
    1.2,1.2,1.5,1.3,1.3,1.4,1.6,2.9,1.6,1.5,2.0,2.0,2.0,1.8,1.2,1.4,1.2]

# the daily sigmas vary a lot, these factors spread the caps through the band
sig_spread_1 = [1.0, 1.9, 0.6, 2.4, 1.3, 0.8, 2.1, 1.6, 0.5, 2.7, 1.1, 1.7, 0.7]
sig_spread_2 = [2.2, 0.9, 1.5, 0.4, 2.9, 1.2, 0.7, 1.8, 2.5, 1.0, 0.6, 2.0]

W, H = 2479, 3508


def sigmas(sig_by_year, times, spread=None):
    out = [sig_by_year[int(t) - 2001] for t in times]
    if spread:
        out = [s * spread[i % len(spread)] for i, s in enumerate(out)]
    return out


def draw_panel(ax, hi, lo, a, b, sig, out_t, out_v, out_s, ylim, yticks, ylabel):
    red = (1, 0, 0, 0.6)
    ebar = dict(fmt='none', ecolor=red, elinewidth=0.25, capsize=1.7, capthick=0.25)
    # solid core of overlapping dots, narrower stems out to the envelope
    ax.vlines(epochs, b, a, color='blue', lw=3, zorder=2)
    ax.vlines(epochs, a, hi, color='blue', lw=2.1, zorder=2)
    ax.vlines(epochs, lo, b, color='blue', lw=2.1, zorder=2)
    ax.errorbar(epochs, hi, yerr=sigmas(sig, epochs), zorder=1, **ebar)
    ax.errorbar(epochs, lo, yerr=sigmas(sig, epochs), zorder=1, **ebar)
    ax.errorbar(out_t, out_v, yerr=out_s, zorder=1, **ebar)
    ax.plot(epochs, hi, 'o', color='blue', ms=3, mew=0, zorder=3)
    ax.plot(epochs, lo, 'o', color='blue', ms=3, mew=0, zorder=3)
    # caps of the inner points show on top of the blue
    inner = dict(fmt='none', ecolor=(1, 0, 0, 0.9), elinewidth=0.12, capsize=1.7, capthick=0.3)
    ax.errorbar(epochs, a, yerr=sigmas(sig, epochs, sig_spread_1), zorder=4, **inner)
    ax.errorbar(epochs, b, yerr=sigmas(sig, epochs, sig_spread_1), zorder=4, **inner)
    ax.errorbar(epochs, a, yerr=sigmas(sig, epochs, sig_spread_2), zorder=4, **inner)
    ax.errorbar(epochs, b, yerr=sigmas(sig, epochs, sig_spread_2), zorder=4, **inner)
    ax.plot(out_t, out_v, 'o', color='blue', ms=3, mew=0, zorder=5)
    for off in offsets:
        ax.axvline(off, color=(0, 1, 0), lw=1.25, zorder=6)
    ax.axhline(0, color='black', lw=0.35, alpha=0.75, zorder=7)

    ax.set_xlim(1999, 2027)
    ax.set_ylim(-ylim, ylim)
    ax.set_xticks([y for y in years if (y - 2001) % 3 == 0])
    ax.set_yticks(yticks)
    ax.tick_params(axis='x', top=True, bottom=True, length=6, width=0.5, pad=5.5, labelsize=14)
    ax.tick_params(axis='y', left=True, right=True, length=6, width=0.5, pad=6, labelsize=14)
    for spine in ax.spines.values():
        spine.set_linewidth(1.2)
        spine.set_zorder(8)
    box = ax.get_position()
    fig.text(90 / W, box.y0 + box.height / 2, ylabel, rotation=90, fontsize=24,
             ha='center', va='baseline', rotation_mode='anchor')


fig = plt.figure(figsize=(W / 300, H / 300), dpi=300)
tops = [201, 1264, 2326]
axes = [fig.add_axes([295 / W, 1 - (t + 945) / H, 1890 / W, 945 / H]) for t in tops]

draw_panel(axes[0], north_hi, north_lo, north_a, north_b, north_sig,
           north_out_t, north_out_v, north_out_s, 21, list(range(-20, 21, 5)), 'North (mm)')
draw_panel(axes[1], east_hi, east_lo, east_a, east_b, east_sig,
           east_out_t, east_out_v, east_out_s, 23, list(range(-20, 21, 5)), 'East (mm)')
draw_panel(axes[2], up_hi, up_lo, up_a, up_b, up_sig,
           up_out_t, up_out_v, up_out_s, 38, list(range(-35, 36, 5)), 'Up (mm)')

fig.text(1238 / W, 1 - 146 / H, 'LPAL_81701M001', fontsize=26, fontweight='bold',
         ha='center', va='baseline')

fig.savefig('out.png', dpi=300)
